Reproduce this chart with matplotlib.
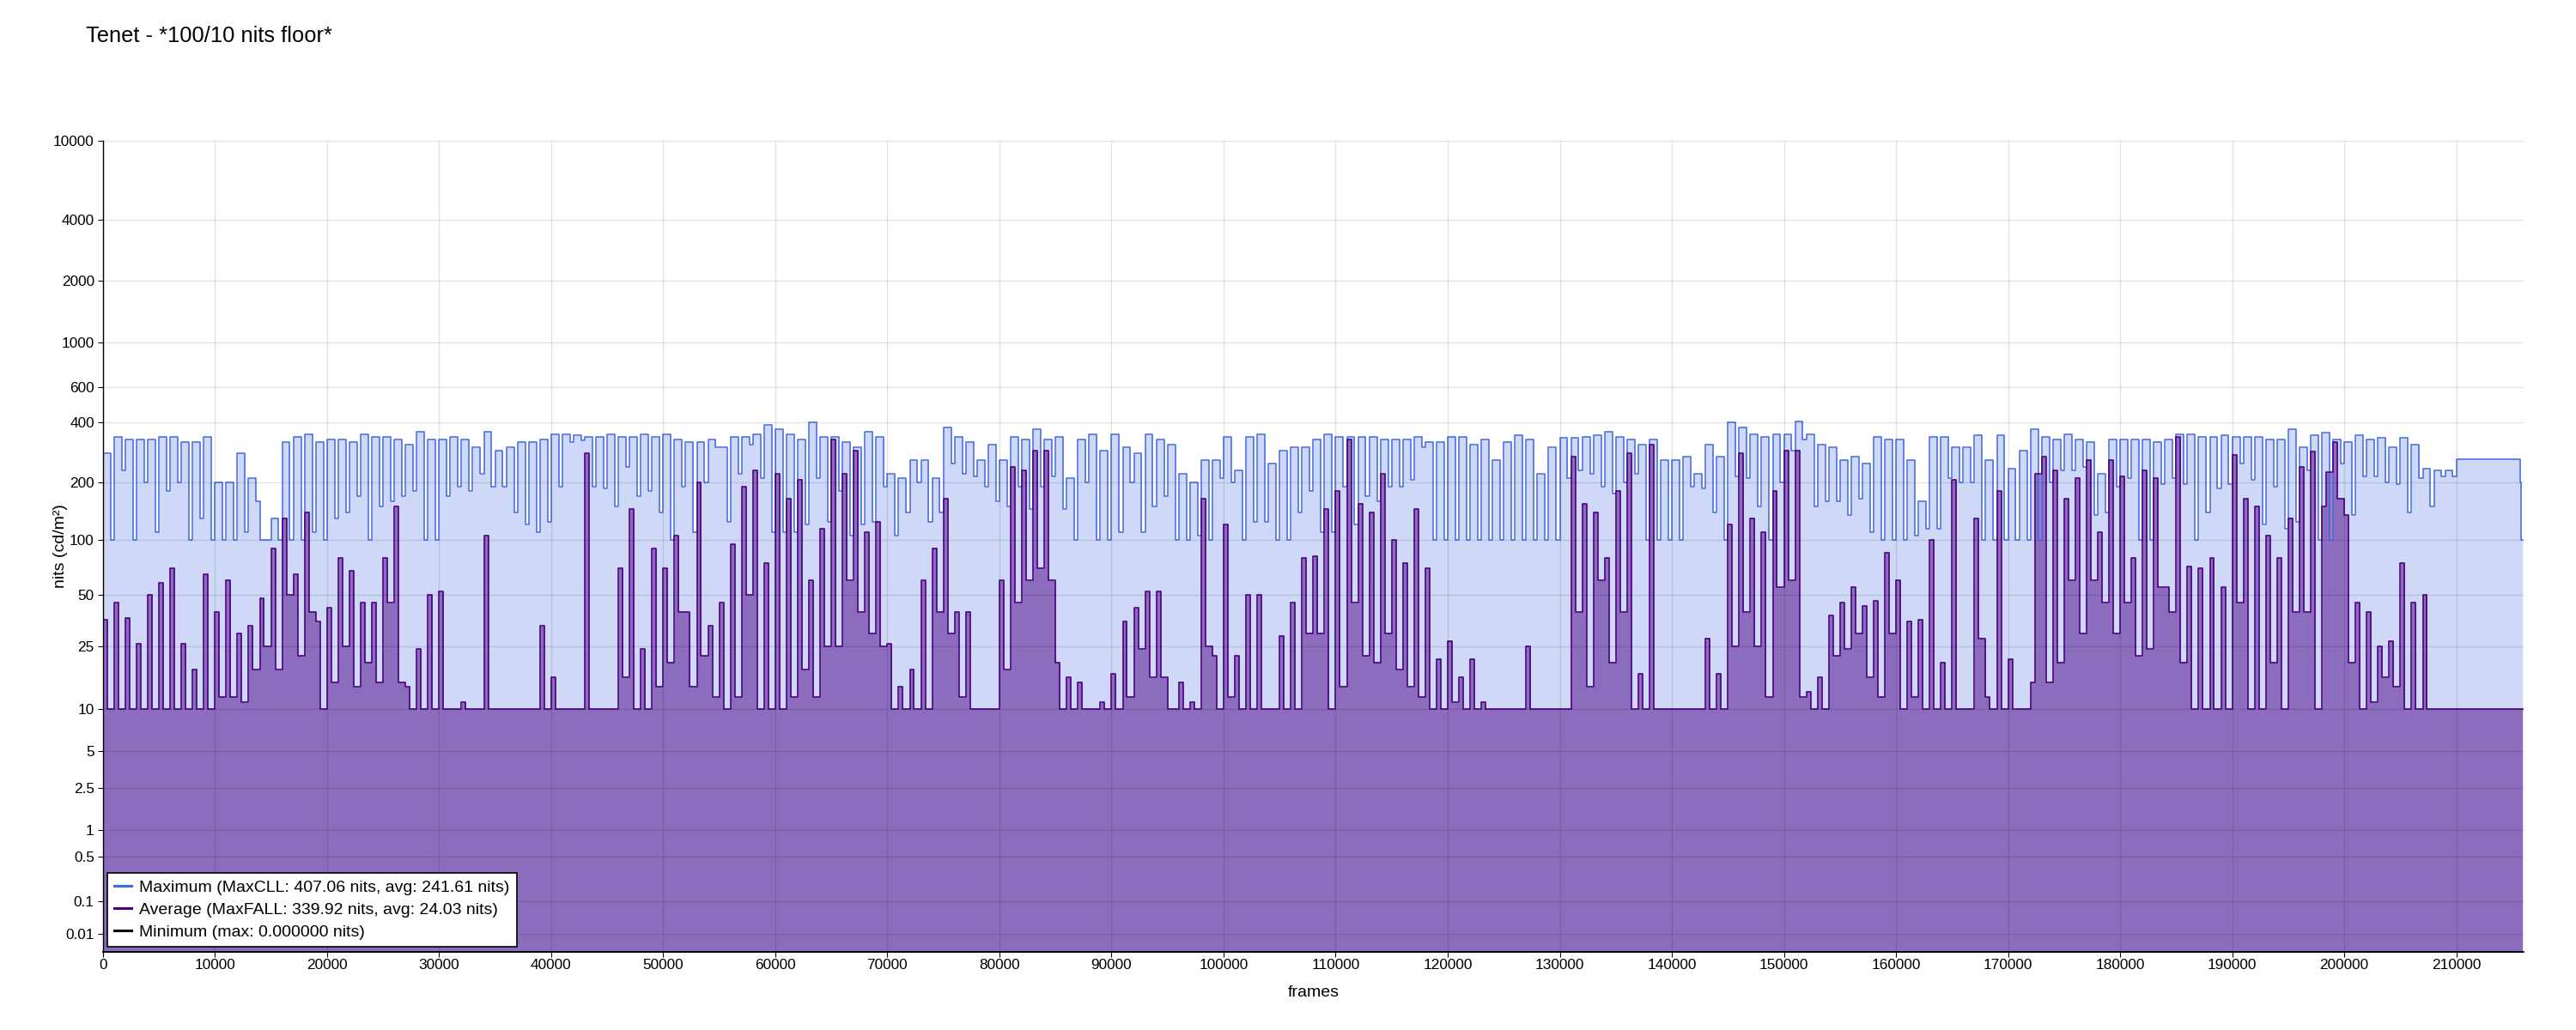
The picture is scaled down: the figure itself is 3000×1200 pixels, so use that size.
import numpy as np
import matplotlib
matplotlib.use("Agg")
import matplotlib.pyplot as plt
from matplotlib.ticker import FixedLocator, FixedFormatter
from matplotlib.lines import Line2D

plt.rcParams['font.family'] = ['Liberation Sans', 'DejaVu Sans']

TITLE = "Tenet - *100/10 nits floor*"
X_LABEL = "frames"
Y_LABEL = "nits (cd/m²)"
BIN = 1000              # frames per (first, second) value pair below
TAIL_START = 215800     # last frames (floor values)
END_FRAME = 215900
X_MAX = 216000

# per-frame maximum (nits): for every 1000 frames a (peak, dip) pair
MAX_NITS = [
    280,100, 340,230, 330,100, 330,200, 330,110, 340,180, 340,200, 320,100, 320,130, 340,100,
    200,100, 200,100, 280,110, 210,160, 100,100, 130,100, 320,100, 340,100, 350,110, 320,100,
    330,130, 330,140, 320,170, 350,100, 340,150, 340,160, 330,170, 310,180, 360,100, 330,100,
    330,170, 340,190, 330,180, 300,220, 360,190, 290,190, 300,140, 320,120, 320,110, 330,125,
    350,190, 350,320, 345,325, 340,190, 340,185, 350,150, 340,240, 340,170, 350,180, 340,140,
    350,100, 330,190, 320,110, 320,200, 330,300, 300,125, 340,220, 340,310, 350,210, 390,110,
    370,110, 350,110, 330,120, 400,210, 340,125, 340,180, 320,105, 300,120, 360,125, 340,190,
    220,105, 210,140, 260,200, 260,125, 210,140, 380,250, 340,220, 320,215, 260,190, 310,160,
    260,150, 340,190, 330,145, 370,190, 330,215, 340,145, 210,100, 330,200, 350,100, 290,100,
    350,110, 300,200, 280,110, 350,150, 330,170, 310,100, 220,100, 200,105, 260,100, 260,210,
    340,200, 230,100, 340,125, 350,125, 250,100, 290,100, 300,140, 300,180, 330,110, 350,110,
    340,190, 340,120, 340,170, 340,160, 330,190, 330,190, 330,205, 340,300, 320,100, 320,100,
    340,100, 340,100, 310,100, 330,100, 260,100, 320,100, 345,100, 330,100, 220,100, 300,100,
    335,210, 335,230, 340,220, 345,190, 360,175, 340,200, 330,220, 310,100, 330,100, 260,100,
    260,100, 270,190, 220,185, 310,140, 270,100, 400,215, 380,210, 350,150, 340,100, 350,200,
    350,290, 405,330, 350,150, 310,160, 300,160, 260,135, 270,165, 250,110, 340,100, 330,100,
    330,100, 260,105, 160,115, 340,115, 340,210, 300,200, 300,200, 345,100, 260,100, 345,100,
    235,100, 290,100, 370,100, 340,200, 330,230, 350,230, 330,240, 320,135, 220,140, 330,190,
    330,210, 330,100, 330,100, 320,195, 330,210, 350,195, 350,100, 340,140, 340,185, 345,195,
    340,250, 340,205, 340,120, 330,190, 330,115, 370,125, 300,230, 345,100, 355,100, 330,250,
    320,135, 345,215, 330,215, 335,200, 300,195, 335,140, 310,210, 235,150, 230,215, 230,215,
    262,262, 262,262, 262,262, 262,262, 262,262, 262,200,
]

# per-frame average (nits): for every 1000 frames a (spike, base) pair
AVG_NITS = [
    36,10, 45,10, 37,10, 26,10, 50,10, 58,10, 70,10, 26,10, 18,10, 65,10,
    40,12, 60,12, 30,11, 33,18, 48,25, 90,18, 130,50, 65,22, 140,40, 35,10,
    42,15, 80,25, 68,14, 45,20, 45,15, 80,45, 150,15, 14,10, 24,10, 50,10,
    52,10, 10,10, 11,10, 10,10, 105,10, 10,10, 10,10, 10,10, 10,10, 33,10,
    16,10, 10,10, 10,10, 280,10, 10,10, 10,10, 70,16, 145,10, 24,10, 90,14,
    70,20, 105,40, 40,14, 200,22, 33,12, 45,10, 95,12, 190,50, 230,10, 75,10,
    220,10, 165,12, 205,18, 60,12, 115,25, 330,25, 220,60, 290,40, 110,30, 125,25,
    26,10, 14,10, 18,10, 60,10, 90,40, 165,30, 40,12, 40,10, 10,10, 10,10,
    60,18, 240,45, 230,60, 290,70, 290,60, 20,10, 16,10, 15,10, 10,10, 11,10,
    17,10, 35,12, 42,24, 52,16, 52,16, 10,10, 15,10, 11,10, 165,25, 22,10,
    120,12, 22,10, 50,10, 50,10, 10,10, 29,10, 45,10, 80,30, 82,30, 145,10,
    180,14, 330,45, 155,22, 140,20, 220,30, 100,18, 75,14, 145,12, 70,10, 21,10,
    27,11, 16,10, 21,10, 11,10, 10,10, 10,10, 10,10, 25,10, 10,10, 10,10,
    10,10, 270,40, 155,14, 140,60, 80,20, 180,40, 280,10, 17,10, 310,10, 10,10,
    10,10, 10,10, 10,10, 28,10, 17,10, 120,25, 280,40, 130,25, 110,12, 180,55,
    290,60, 290,12, 13,10, 16,10, 38,22, 45,24, 55,30, 43,16, 46,12, 85,30,
    60,10, 35,12, 36,10, 100,10, 20,10, 205,10, 10,10, 130,28, 12,10, 180,10,
    21,10, 10,10, 15,220, 270,15, 230,20, 165,60, 210,30, 260,60, 110,45, 260,30,
    215,45, 80,22, 230,24, 210,55, 55,40, 340,20, 72,10, 70,10, 80,10, 55,10,
    275,45, 165,10, 150,10, 105,20, 80,10, 130,40, 240,40, 285,10, 150,225, 320,165,
    135,20, 45,10, 40,11, 25,16, 27,14, 75,10, 45,10, 50,10, 10,10, 10,10,
    10,10, 10,10, 10,10, 10,10, 10,10, 10,10,
]

TAIL_MAX = [100, 100]
TAIL_AVG = [10, 10]
MIN_NITS = 0.0

LEGEND_LABELS = [
    "Maximum (MaxCLL: 407.06 nits, avg: 241.61 nits)",
    "Average (MaxFALL: 339.92 nits, avg: 24.03 nits)",
    "Minimum (max: 0.000000 nits)",
]
Y_TICKS = [0.01, 0.1, 0.5, 1, 2.5, 5, 10, 25, 50, 100, 200, 400, 600, 1000, 2000, 4000, 10000]
Y_TICK_LABELS = ["0.01", "0.1", "0.5", "1", "2.5", "5", "10", "25", "50", "100",
                 "200", "400", "600", "1000", "2000", "4000", "10000"]
X_TICKS = list(range(0, 210001, 10000))

MAX_COLOR = "#4169E1"
AVG_COLOR = "#4B0082"

# SMPTE ST 2084 (PQ) scale
M1 = 2610 / 16384
M2 = 2523 / 4096 * 128
C1 = 3424 / 4096
C2 = 2413 / 4096 * 32
C3 = 2392 / 4096 * 32


def pq_forward(L):
    L = np.clip(np.asarray(L, dtype=float), 0, None)
    Y = (L / 10000.0) ** M1
    return ((C1 + C2 * Y) / (1 + C3 * Y)) ** M2


def pq_inverse(E):
    E = np.clip(np.asarray(E, dtype=float), 0, 1) ** (1 / M2)
    num = np.clip(E - C1, 0, None)
    return 10000.0 * (num / (C2 - C3 * E)) ** (1 / M1)


def pair_frames(n_values, first_share):
    """x positions for (first, second) value pairs; first value lasts first_share of a bin."""
    bins = np.arange(n_values // 2) * BIN
    xs = np.empty(n_values)
    xs[0::2] = bins
    xs[1::2] = bins + first_share * BIN
    return np.concatenate([xs, [TAIL_START, END_FRAME]])


frames_max = pair_frames(len(MAX_NITS), 0.68)   # dips are short
frames_avg = pair_frames(len(AVG_NITS), 0.38)   # spikes are short
max_vals = np.array(MAX_NITS + TAIL_MAX, dtype=float)
avg_vals = np.array(AVG_NITS + TAIL_AVG, dtype=float)
frames_min = np.array([0, END_FRAME], dtype=float)
min_vals = np.full(frames_min.shape, MIN_NITS)

fig = plt.figure(figsize=(30, 12), dpi=100)
ax = fig.add_axes([0.03993, 0.07608, 0.93973, 0.78708])

ax.set_yscale('function', functions=(pq_forward, pq_inverse))

ax.fill_between(frames_max, 0, max_vals, step='post', color=MAX_COLOR, alpha=0.25, linewidth=0, zorder=1)
ax.fill_between(frames_avg, 0, avg_vals, step='post', color=AVG_COLOR, alpha=0.5, linewidth=0, zorder=1.1)
ax.step(frames_max, max_vals, where='post', color=MAX_COLOR, linewidth=1.1, zorder=2)
ax.step(frames_avg, avg_vals, where='post', color=AVG_COLOR, linewidth=1.2, zorder=2.1)
ax.plot(frames_min, min_vals, color='black', linewidth=1.2, zorder=2.2, clip_on=False)

ax.set_xlim(0, X_MAX)
ax.set_ylim(0, 10000)
ax.yaxis.set_major_locator(FixedLocator(Y_TICKS))
ax.yaxis.set_major_formatter(FixedFormatter(Y_TICK_LABELS))
ax.yaxis.set_minor_locator(FixedLocator([]))
ax.xaxis.set_major_locator(FixedLocator(X_TICKS))
ax.xaxis.set_major_formatter(FixedFormatter([str(v) for v in X_TICKS]))

ax.grid(True, color='black', alpha=0.11, linewidth=1.0)
ax.set_axisbelow(False)

for side in ('top', 'right'):
    ax.spines[side].set_visible(False)
ax.spines['left'].set_linewidth(1.0)
ax.spines['bottom'].set_linewidth(1.2)

ax.tick_params(axis='both', which='major', labelsize=12.4, length=4.3, width=0.8,
               direction='out', color='black', labelcolor='black')
ax.tick_params(axis='y', pad=2.9)
ax.tick_params(axis='x', pad=2.0)

ax.set_xlabel(X_LABEL, fontsize=14)
ax.set_ylabel(Y_LABEL, fontsize=14)
ax.xaxis.set_label_coords(0.5, -0.042)
ax.yaxis.set_label_coords(-0.0143, 0.5)

fig.text(0.0333, 0.965, TITLE, fontsize=18.4, ha='left', va='center')

handles = [Line2D([0], [0], color=MAX_COLOR, linewidth=2.2),
           Line2D([0], [0], color=AVG_COLOR, linewidth=2.2),
           Line2D([0], [0], color='black', linewidth=2.2)]
leg = ax.legend(handles, LEGEND_LABELS, loc='lower left', bbox_to_anchor=(0.002, 0.006),
                borderaxespad=0, fontsize=14, frameon=True, fancybox=False, framealpha=1,
                edgecolor='black', handlelength=1.0, handletextpad=0.5, labelspacing=0.45,
                borderpad=0.4)
leg.get_frame().set_linewidth(1.2)
leg.set_zorder(5)

fig.savefig("out.png", dpi=100)
